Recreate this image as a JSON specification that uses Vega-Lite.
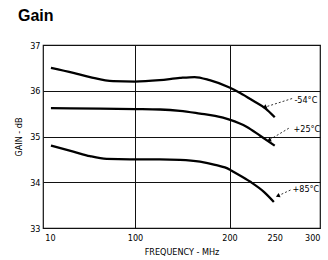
{
  "$schema": "https://vega.github.io/schema/vega-lite/v6.json",
  "width": 277,
  "height": 183,
  "autosize": "none",
  "padding": {"left": 43, "top": 45, "right": 8, "bottom": 32},
  "background": "white",
  "title": {
    "text": "Gain",
    "anchor": "start",
    "frame": "group",
    "dx": -25,
    "offset": 17,
    "font": "Liberation Sans",
    "fontSize": 16,
    "fontWeight": "bold",
    "color": "#000"
  },
  "config": {
    "view": {"stroke": "#111", "strokeWidth": 1.2},
    "axis": {
      "labelFont": "Liberation Sans Narrow, DejaVu Sans Condensed, sans-serif",
      "titleFont": "Liberation Sans Narrow, DejaVu Sans Condensed, sans-serif",
      "labelFontSize": 9,
      "titleFontSize": 9,
      "titleFontWeight": "normal",
      "labelColor": "#000",
      "titleColor": "#000",
      "domain": false,
      "ticks": false,
      "gridColor": "#111",
      "gridWidth": 1
    }
  },
  "datasets": {
    "curves": [
      {"series": "-54", "f": 11, "gain": 36.5},
      {"series": "-54", "f": 34.7, "gain": 36.39},
      {"series": "-54", "f": 52.4, "gain": 36.3},
      {"series": "-54", "f": 76.7, "gain": 36.21},
      {"series": "-54", "f": 100, "gain": 36.2},
      {"series": "-54", "f": 126, "gain": 36.23},
      {"series": "-54", "f": 147.6, "gain": 36.28},
      {"series": "-54", "f": 163, "gain": 36.3},
      {"series": "-54", "f": 179, "gain": 36.23},
      {"series": "-54", "f": 200, "gain": 36.07},
      {"series": "-54", "f": 211.8, "gain": 35.95},
      {"series": "-54", "f": 226.2, "gain": 35.78},
      {"series": "-54", "f": 239.9, "gain": 35.61},
      {"series": "-54", "f": 250, "gain": 35.42},
      {"series": "+25", "f": 11, "gain": 35.62},
      {"series": "+25", "f": 63, "gain": 35.61},
      {"series": "+25", "f": 100, "gain": 35.6},
      {"series": "+25", "f": 126.5, "gain": 35.59},
      {"series": "+25", "f": 147.6, "gain": 35.56},
      {"series": "+25", "f": 168.8, "gain": 35.5},
      {"series": "+25", "f": 184.7, "gain": 35.45},
      {"series": "+25", "f": 200, "gain": 35.37},
      {"series": "+25", "f": 219.3, "gain": 35.21},
      {"series": "+25", "f": 234.3, "gain": 35.01},
      {"series": "+25", "f": 250, "gain": 34.8},
      {"series": "+85", "f": 11, "gain": 34.8},
      {"series": "+85", "f": 34.7, "gain": 34.67},
      {"series": "+85", "f": 52.4, "gain": 34.57},
      {"series": "+85", "f": 70, "gain": 34.51},
      {"series": "+85", "f": 94.7, "gain": 34.5},
      {"series": "+85", "f": 126, "gain": 34.5},
      {"series": "+85", "f": 147.6, "gain": 34.49},
      {"series": "+85", "f": 168.8, "gain": 34.45},
      {"series": "+85", "f": 184.7, "gain": 34.38},
      {"series": "+85", "f": 200, "gain": 34.28},
      {"series": "+85", "f": 204.3, "gain": 34.23},
      {"series": "+85", "f": 223, "gain": 34.01},
      {"series": "+85", "f": 238, "gain": 33.79},
      {"series": "+85", "f": 249, "gain": 33.57}
    ],
    "labels": [
      {"text": "-54°C", "f": 271.7, "gain": 35.79, "f0": 269.2, "g0": 35.83, "f1": 238.8, "g1": 35.64},
      {"text": "+25°C", "f": 270.7, "gain": 35.16, "f0": 265.5, "g0": 35.18, "f1": 243.6, "g1": 34.92},
      {"text": "+85°C", "f": 269.6, "gain": 33.85, "f0": 267.4, "g0": 33.83, "f1": 253.3, "g1": 33.7}
    ]
  },
  "layer": [
    {
      "data": {"name": "curves"},
      "mark": {"type": "line", "interpolate": "monotone", "color": "#000", "strokeWidth": 2.3},
      "encoding": {
        "x": {
          "field": "f",
          "type": "quantitative",
          "scale": {"domain": [3, 10, 100, 200, 300], "range": [0, 7, 92, 186.5, 277], "nice": false, "zero": false},
          "axis": {
            "values": [10, 100, 200, 250, 300],
            "title": "FREQUENCY - MHz",
            "labelPadding": 5,
            "titlePadding": 5,
            "gridOpacity": {"condition": {"test": "datum.value === 100 || datum.value === 200", "value": 1}, "value": 0}
          }
        },
        "y": {
          "field": "gain",
          "type": "quantitative",
          "scale": {"domain": [33, 37], "nice": false, "zero": false},
          "axis": {"values": [33, 34, 35, 36, 37], "title": "GAIN - dB", "labelPadding": 3, "titlePadding": 6}
        },
        "detail": {"field": "series"}
      }
    },
    {
      "data": {"name": "labels"},
      "mark": {"type": "rule", "color": "#000", "strokeWidth": 0.8, "strokeDash": [2, 2]},
      "encoding": {
        "x": {"field": "f0", "type": "quantitative"},
        "y": {"field": "g0", "type": "quantitative"},
        "x2": {"field": "f1"},
        "y2": {"field": "g1"}
      }
    },
    {
      "data": {"name": "labels"},
      "mark": {"type": "point", "shape": "triangle-left", "filled": true, "color": "#000", "size": 22, "angle": 335, "opacity": 1},
      "encoding": {
        "x": {"field": "f1", "type": "quantitative"},
        "y": {"field": "g1", "type": "quantitative"}
      }
    },
    {
      "data": {"name": "labels"},
      "mark": {"type": "text", "align": "left", "baseline": "middle", "font": "Liberation Sans Narrow, DejaVu Sans Condensed, sans-serif", "fontSize": 9, "color": "#000"},
      "encoding": {
        "x": {"field": "f", "type": "quantitative"},
        "y": {"field": "gain", "type": "quantitative"},
        "text": {"field": "text"}
      }
    }
  ]
}
